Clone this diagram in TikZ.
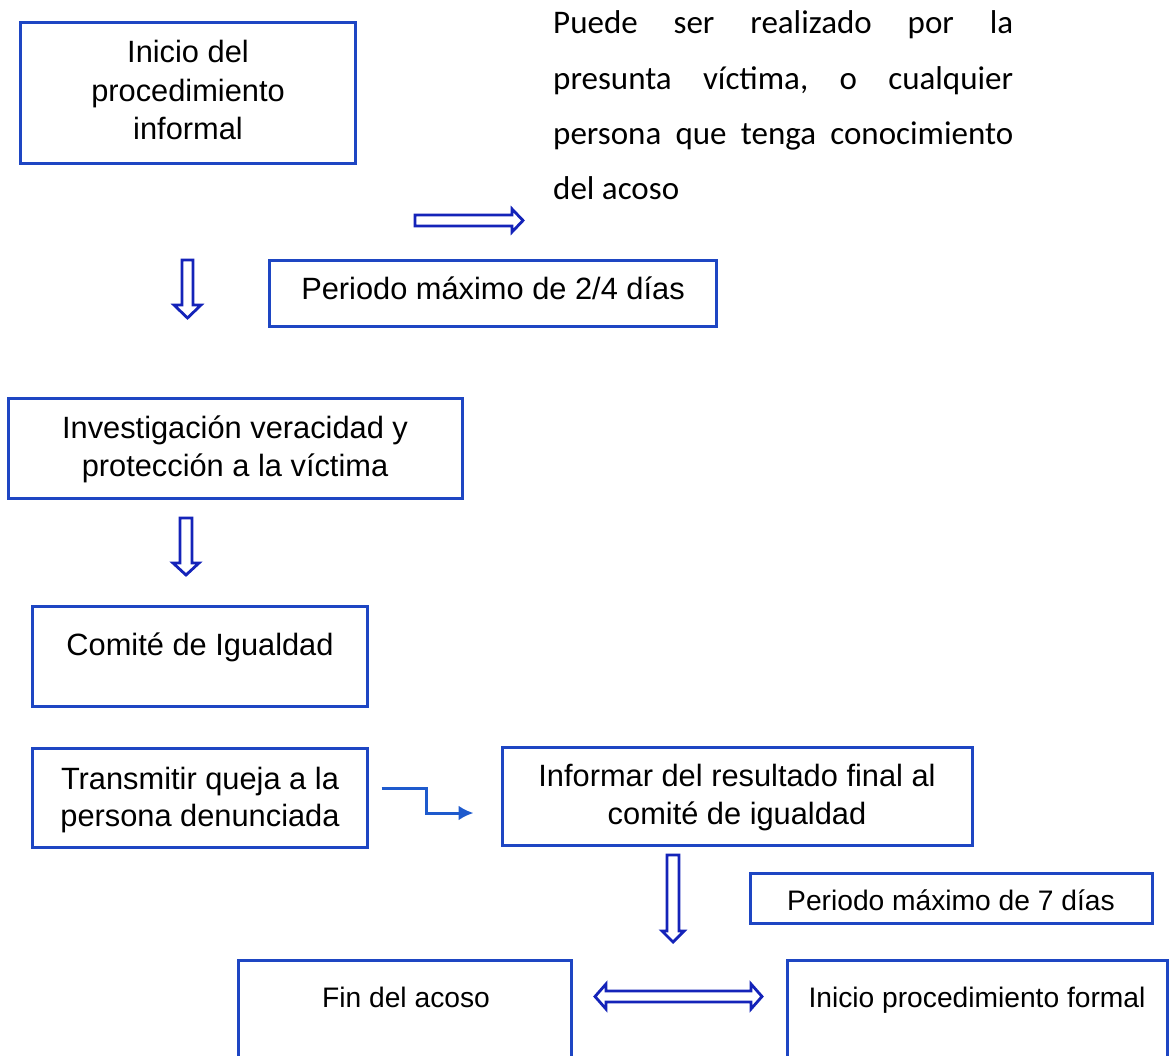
\documentclass[tikz,border=0pt]{standalone}
\usepackage{fontspec}
\setmainfont{Liberation Sans}
\newfontfamily\carlfont{Carlito}
\usetikzlibrary{arrows.meta,calc}
\definecolor{boxc}{RGB}{30,70,195}
\definecolor{arrc}{RGB}{20,35,185}
\definecolor{elbc}{RGB}{30,90,205}
\begin{document}
\begin{tikzpicture}[x=1pt,y=-1pt,
  box/.style={draw=boxc, line width=3pt, inner sep=0pt, rectangle},
  txt/.style={inner sep=0pt, anchor=base, font=\fontsize{30.8}{38}\selectfont},
  stxt/.style={inner sep=0pt, anchor=base, font=\fontsize{28.2}{34}\selectfont},
  para/.style={inner sep=0pt, anchor=base west, font=\carlfont\fontsize{33}{55}\selectfont},
  hollow/.style={draw=arrc, line width=2.8pt, fill=white, line join=miter},
  elbow/.style={draw=elbc, line width=3pt, -{Latex[length=15pt,width=15pt]}}]
\useasboundingbox (0,0) rectangle (1174,1056);
\clip (0,0) rectangle (1174,1056);
\fill[white] (0,0) rectangle (1174,1056);

% boxes
\node[box, minimum width=335pt, minimum height=141pt] (b1) at (187.5,93.5) {};
\node[box, minimum width=447pt, minimum height=65pt] (b2) at (492.5,293.5) {};
\node[box, minimum width=454pt, minimum height=100pt] (b3) at (235,448) {};
\node[box, minimum width=335pt, minimum height=100pt] (b4) at (199.5,656) {};
\node[box, minimum width=335pt, minimum height=99pt] (b5) at (199.5,797.5) {};
\node[box, minimum width=470pt, minimum height=98pt] (b6) at (737,796) {};
\node[box, minimum width=402pt, minimum height=50pt] (b7) at (951,898) {};
\node[box, minimum width=333pt, minimum height=120pt] (b8) at (404.5,1020) {};
\node[box, minimum width=380pt, minimum height=120pt] (b9) at (977,1020) {};

% box texts
\node[txt] (t1a) at (188,63) {Inicio del};
\node[txt] (t1b) at (188,102) {procedimiento};
\node[txt] (t1c) at (188,140) {informal};
\node[txt] (t2) at (493,300) {Periodo máximo de 2/4 días};
\node[txt] (t3a) at (235,438) {Investigación veracidad y};
\node[txt] (t3b) at (235,476) {protección a la víctima};
\node[txt] (t4) at (200,655) {Comité de Igualdad};
\node[txt] (t5a) at (200,789) {Transmitir queja a la};
\node[txt] (t5b) at (200,826) {persona denunciada};
\node[txt] (t6a) at (737,786) {Informar del resultado final al};
\node[txt] (t6b) at (737,824) {comité de igualdad};
\node[stxt] (t7) at (951,910) {Periodo máximo de 7 días};
\node[stxt] (t8) at (406,1007) {Fin del acoso};
\node[stxt] (t9) at (977,1007) {Inicio procedimiento formal};

% paragraph
\node[para] (p1) at (553,34) {\makebox[460pt][l]{Puede\hfill ser\hfill realizado\hfill por\hfill la}};
\node[para] (p2) at (553,90) {\makebox[460pt][l]{presunta\hfill víctima,\hfill o\hfill cualquier}};
\node[para] (p3) at (553,145) {\makebox[460pt][l]{persona\hfill que\hfill tenga\hfill conocimiento}};
\node[para] (p4) at (553,200) {del acoso};

% hollow block arrows
\draw[hollow] (415,215) -- (512,215) -- (512,209) -- (523,220.5) -- (512,232) -- (512,226) -- (415,226) -- cycle;
\draw[hollow] (182,260) -- (193,260) -- (193,305) -- (201,305) -- (187.5,318) -- (174,305) -- (182,305) -- cycle;
\draw[hollow] (180,518) -- (192,518) -- (192,563) -- (199,563) -- (186,575) -- (173,563) -- (180,563) -- cycle;
\draw[hollow] (667,855) -- (679,855) -- (679,931) -- (684,931) -- (673,942) -- (662,931) -- (667,931) -- cycle;
\draw[hollow] (595,996.5) -- (606,984) -- (606,991) -- (751,991) -- (751,984) -- (762,996.5) -- (751,1009) -- (751,1002) -- (606,1002) -- (606,1009) -- cycle;

% elbow connector
\coordinate (e1) at ($(b5.east)+(13,-9.5)$);
\coordinate (e2) at ($(b6.west)+(-27,17)$);
\draw[elbow] (e1) -- ++(45,0) |- (e2);
\end{tikzpicture}
\end{document}
